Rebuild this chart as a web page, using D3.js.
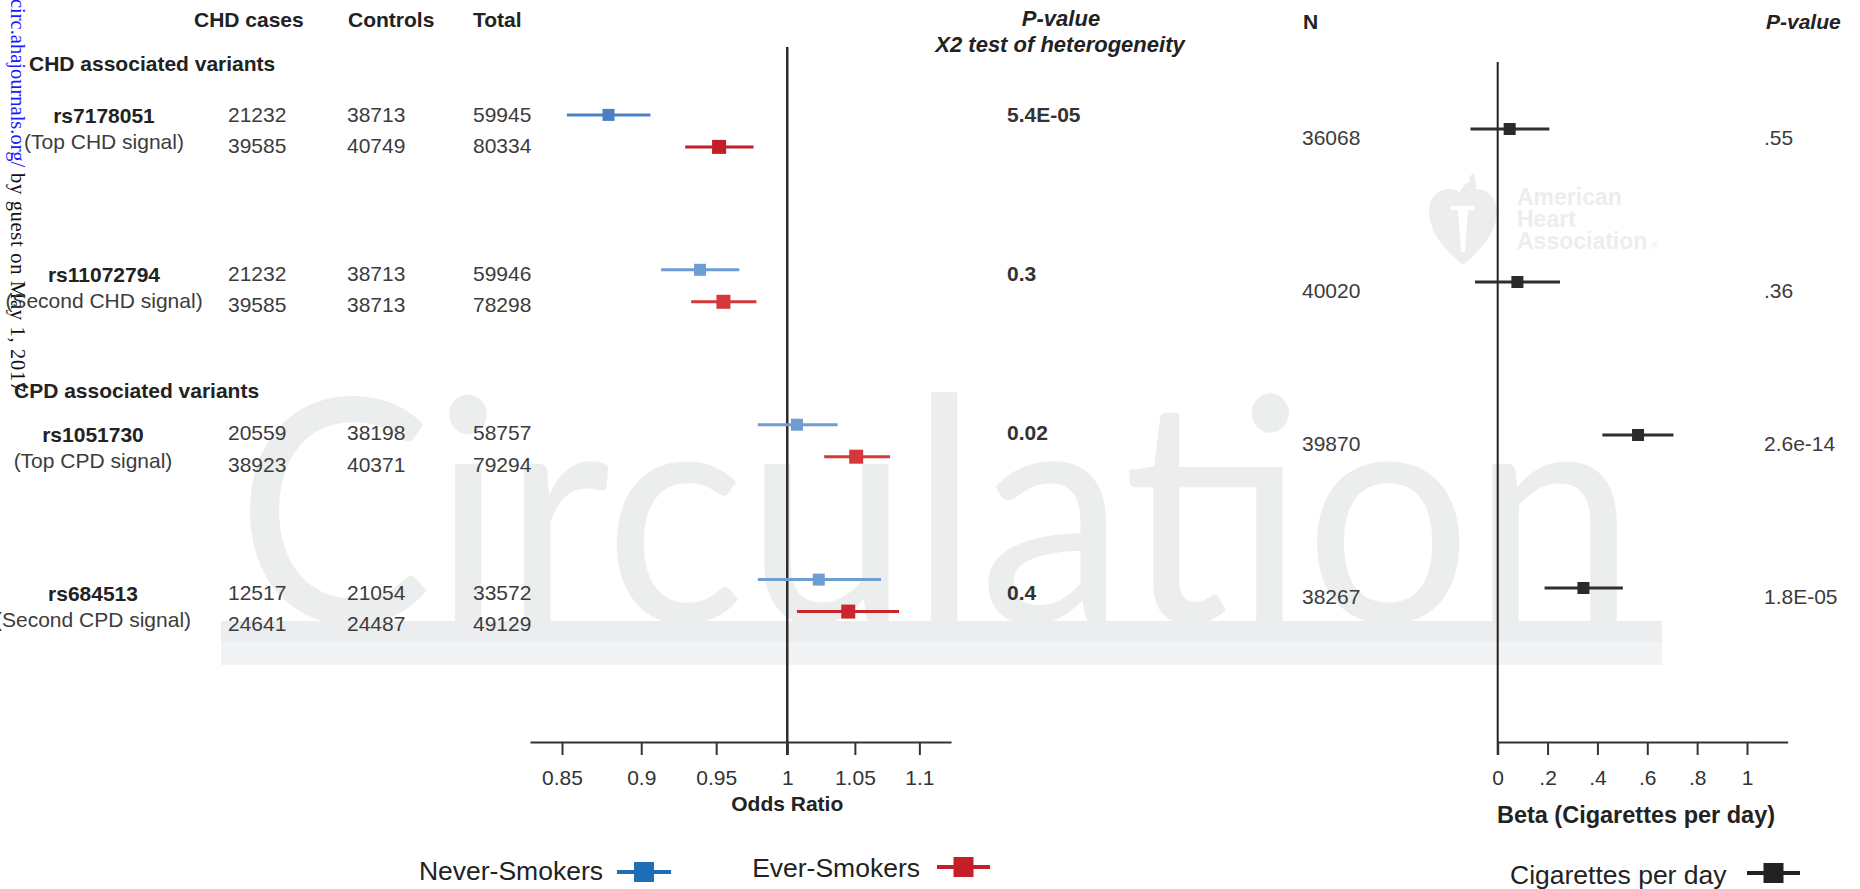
<!DOCTYPE html>
<html>
<head>
<meta charset="utf-8">
<script src="https://cdn.jsdelivr.net/npm/d3@7"></script>
<style>
  html, body { margin: 0; padding: 0; background: #fff; overflow: hidden; }
  svg { display: block; font-family: "Liberation Sans", Arial, Helvetica, sans-serif; }
</style>
</head>
<body>
<svg id="chart" width="1860" height="889"></svg>
<script>
// ---------------- data ----------------
const snps = ["rs7178051", "rs11072794", "rs1051730", "rs684513"];
const snpNotes = ["(Top CHD signal)", "(Second CHD signal)", "(Top CPD signal)", "(Second CPD signal)"];
const sectionTitles = ["CHD associated variants", "CPD associated variants"];
const tableHeaders = ["CHD cases", "Controls", "Total"];

// never-smokers (first line) and ever-smokers (second line) counts
const casesNever    = [21232, 21232, 20559, 12517];
const controlsNever = [38713, 38713, 38198, 21054];
const totalNever    = [59945, 59946, 58757, 33572];
const casesEver     = [39585, 39585, 38923, 24641];
const controlsEver  = [40749, 38713, 40371, 24487];
const totalEver     = [80334, 78298, 79294, 49129];

// odds ratios for CHD with 95% CI
const orNever   = [0.879, 0.939, 1.007, 1.023];
const orNeverLo = [0.853, 0.913, 0.979, 0.979];
const orNeverHi = [0.906, 0.966, 1.037, 1.070];
const orEver    = [0.952, 0.955, 1.051, 1.045];
const orEverLo  = [0.929, 0.933, 1.027, 1.007];
const orEverHi  = [0.976, 0.978, 1.077, 1.084];
const pHeterogeneity = ["5.4E-05", "0.3", "0.02", "0.4"];
const orTicks = [0.85, 0.9, 0.95, 1, 1.05, 1.1];

// association with cigarettes per day
const cpdN    = [36068, 40020, 39870, 38267];
const cpdBeta = [0.048, 0.079, 0.563, 0.344];
const cpdLo   = [-0.109, -0.091, 0.420, 0.188];
const cpdHi   = [0.207, 0.250, 0.705, 0.502];
const cpdP    = [".55", ".36", "2.6e-14", "1.8E-05"];
const betaTicks = [0, 0.2, 0.4, 0.6, 0.8, 1];
const betaTickLabels = ["0", ".2", ".4", ".6", ".8", "1"];

const seriesNames = ["Never-Smokers", "Ever-Smokers"];
const cpdLegend = "Cigarettes per day";

// ---------------- drawing ----------------
const svg = d3.select("#chart");
const INK = "#2a2a2a", NUM = "#3c3c3c";

function label(g, x, y, s, o = {}) {
  return g.append("text")
    .attr("x", x).attr("y", y)
    .attr("font-size", o.size || 21)
    .attr("font-weight", o.bold ? "bold" : "normal")
    .attr("font-style", o.italic ? "italic" : "normal")
    .attr("text-anchor", o.anchor || "start")
    .attr("fill", o.fill || INK)
    .text(s);
}

// --- background watermark ---
const wm = svg.append("g");
wm.append("text")
  .attr("x", 236).attr("y", 622)
  .attr("font-family", "Lato, 'Open Sans', 'Liberation Sans', sans-serif")
  .attr("font-weight", 400)
  .attr("font-size", 312)
  .attr("textLength", 1400).attr("lengthAdjust", "spacingAndGlyphs")
  .attr("fill", "#eceded")
  .text("Circulation");
wm.append("rect").attr("x", 221).attr("y", 642).attr("width", 1441).attr("height", 23).attr("fill", "#f2f3f4");
wm.append("rect").attr("x", 221).attr("y", 621).attr("width", 1441).attr("height", 21).attr("fill", "#ecedee");

// heart-and-torch emblem with society name
const logo = svg.append("g").attr("fill", "#ededed");
logo.append("path").attr("d",
  "M1463 265 C1440 246 1429 229 1429 211 C1429 197 1439 189 1450 189 C1457 189 1461 193 1463 197 " +
  "C1465 193 1469 189 1476 189 C1487 189 1497 197 1497 211 C1497 229 1486 246 1463 265 Z");
logo.append("path").attr("fill", "#fff").attr("d",
  "M1451 206 L1475 206 L1475 210 L1468 210 L1465 252 L1461 252 L1458 210 L1451 210 Z");
logo.append("path").attr("d",
  "M1460 203 C1456 194 1462 186 1470 181 C1468 176 1472 174 1475 173 C1473 180 1480 186 1474 194 C1471 199 1467 201 1466 203 Z");
[["American", 205], ["Heart", 227], ["Association", 249]].forEach(([t, y]) =>
  label(logo, 1517, y, t, { size: 23, bold: true, fill: "#ededed" }));
label(logo, 1651, 249, "®", { size: 9, fill: "#ededed" });

// --- margin stamp ---
const stamp = svg.append("text")
  .attr("transform", "translate(11,-1) rotate(90)")
  .attr("font-family", "'Liberation Serif', 'Times New Roman', serif")
  .attr("font-size", 20.5);
stamp.append("tspan").attr("fill", "#1a1aff").text("circ.ahajournals.org/");
stamp.append("tspan").attr("fill", "#111").attr("letter-spacing", 0.7).text(" by guest on May 1, 2017");

// --- table (left) ---
const tableY = d3.scalePoint().domain(snps).range([114, 592]);
const colX = d3.scaleOrdinal().domain(tableHeaders).range([228, 347, 473]);
const headX = d3.scaleOrdinal().domain(tableHeaders).range([194, 348, 473]);
const tbl = svg.append("g");
tableHeaders.forEach(h => label(tbl, headX(h), 26.5, h, { bold: true, fill: "#222" }));
label(tbl, 29, 70.5, sectionTitles[0], { bold: true, fill: "#222" });
label(tbl, 14, 397.5, sectionTitles[1], { bold: true, fill: "#222" });

const neverCols = [casesNever, controlsNever, totalNever];
const everCols = [casesEver, controlsEver, totalEver];
snps.forEach((s, i) => {
  const y = tableY(s);
  const cx = i < 2 ? 104 : 93;
  label(tbl, cx, y + 9, s, { bold: true, anchor: "middle", fill: "#222" });
  label(tbl, cx, y + 35, snpNotes[i], { anchor: "middle", fill: NUM });
  tableHeaders.forEach((h, k) => {
    label(tbl, colX(h), y + 7.5, neverCols[k][i], { fill: NUM });
    label(tbl, colX(h), y + 39, everCols[k][i], { fill: NUM });
  });
});

// --- odds-ratio forest plot ---
const xOR = d3.scaleLog().domain([0.8306, 1.1254]).range([530, 951]);
const forestY = d3.scalePoint().domain(snps).range([114.9, 579.6]);
const pairY = d3.scalePoint().domain(seriesNames).range([0, 32]);
const AXIS_Y = 742;

const fp = svg.append("g");
fp.append("line")
  .attr("x1", xOR(1)).attr("x2", xOR(1)).attr("y1", 47).attr("y2", AXIS_Y + 13)
  .attr("stroke", "#2d2d2d").attr("stroke-width", 2.5);

const orAxis = d3.axisBottom(xOR).tickValues(orTicks).tickFormat(d => String(d))
  .tickSizeInner(13).tickSizeOuter(0).tickPadding(15);
const gx = fp.append("g").attr("transform", `translate(0,${AXIS_Y})`).call(orAxis);
gx.select(".domain").attr("stroke", "#333").attr("stroke-width", 2);
gx.selectAll(".tick line").attr("stroke", "#333").attr("stroke-width", 2);
gx.selectAll(".tick text").attr("font-size", 21).attr("fill", "#333")
  .attr("font-family", "'Liberation Sans', Arial, sans-serif");
label(fp, xOR(1), 810.5, "Odds Ratio", { bold: true, anchor: "middle", fill: "#222" });

const orRows = [];
snps.forEach((s, i) => {
  orRows.push({ snp: s, i, series: seriesNames[0], est: orNever[i], lo: orNeverLo[i], hi: orNeverHi[i] });
  orRows.push({ snp: s, i, series: seriesNames[1], est: orEver[i], lo: orEverLo[i], hi: orEverHi[i] });
});
const shade = {
  "Never-Smokers": ["#4a80c2", "#6d9dd3", "#6d9dd3", "#6d9dd3"],
  "Ever-Smokers":  ["#c21e27", "#d5383b", "#d5383b", "#c9272d"]
};
const boxSize = { "Never-Smokers": 12, "Ever-Smokers": 14 };

const rowG = fp.selectAll("g.row").data(orRows).join("g").attr("class", "row")
  .attr("transform", d => `translate(0,${forestY(d.snp) + pairY(d.series)})`);
rowG.append("line")
  .attr("x1", d => xOR(d.lo)).attr("x2", d => xOR(d.hi))
  .attr("stroke", d => shade[d.series][d.i]).attr("stroke-width", 3);
rowG.append("rect")
  .attr("x", d => xOR(d.est) - boxSize[d.series] / 2)
  .attr("y", d => -boxSize[d.series] / 2)
  .attr("width", d => boxSize[d.series]).attr("height", d => boxSize[d.series])
  .attr("fill", d => shade[d.series][d.i]);

// --- heterogeneity p-values ---
const ph = svg.append("g");
label(ph, 1061, 26, "P-value", { bold: true, italic: true, anchor: "middle", size: 22, fill: "#222" });
label(ph, 1060, 51.5, "X2 test of heterogeneity", { bold: true, italic: true, anchor: "middle", size: 22, fill: "#222" });
snps.forEach((s, i) => label(ph, 1007, tableY(s) + 7.5, pHeterogeneity[i], { bold: true, fill: "#333" }));

// --- cigarettes-per-day panel ---
const xB = d3.scaleLinear().domain([0, 1.1633]).range([1497.7, 1787.7]);
const cpdY = d3.scalePoint().domain(snps).range([129, 588]);
const cp = svg.append("g");
cp.append("line")
  .attr("x1", xB(0)).attr("x2", xB(0)).attr("y1", 62).attr("y2", AXIS_Y + 13)
  .attr("stroke", "#222").attr("stroke-width", 2);
const bAxis = d3.axisBottom(xB).tickValues(betaTicks)
  .tickFormat((d, k) => betaTickLabels[k])
  .tickSizeInner(13).tickSizeOuter(0).tickPadding(15);
const gb = cp.append("g").attr("transform", `translate(0,${AXIS_Y})`).call(bAxis);
gb.select(".domain").attr("stroke", "#333").attr("stroke-width", 2);
gb.selectAll(".tick line").attr("stroke", "#333").attr("stroke-width", 2);
gb.selectAll(".tick text").attr("font-size", 21).attr("fill", "#333")
  .attr("font-family", "'Liberation Sans', Arial, sans-serif");
label(cp, 1636, 823, "Beta (Cigarettes per day)", { bold: true, anchor: "middle", size: 23.5, fill: "#222" });

label(cp, 1303, 29, "N", { bold: true, fill: "#222" });
label(cp, 1766, 29, "P-value", { bold: true, italic: true, fill: "#222" });

const cpdRows = snps.map((s, i) => ({ snp: s, n: cpdN[i], est: cpdBeta[i], lo: cpdLo[i], hi: cpdHi[i], p: cpdP[i] }));
const cg = cp.selectAll("g.cpd").data(cpdRows).join("g").attr("class", "cpd")
  .attr("transform", d => `translate(0,${cpdY(d.snp)})`);
cg.append("line")
  .attr("x1", d => xB(d.lo)).attr("x2", d => xB(d.hi))
  .attr("stroke", "#2e2e2e").attr("stroke-width", 3);
cg.append("rect")
  .attr("x", d => xB(d.est) - 6).attr("y", -6).attr("width", 12).attr("height", 12)
  .attr("fill", "#2a2a2a");
cg.each(function (d) {
  const g = d3.select(this);
  label(g, 1302, 15.5, d.n, { fill: NUM });
  label(g, 1764, 15.5, d.p, { fill: NUM });
});

// --- legends ---
const lg = svg.append("g");
function legendKey(x1, x2, y, size, color) {
  lg.append("line").attr("x1", x1).attr("x2", x2).attr("y1", y).attr("y2", y)
    .attr("stroke", color).attr("stroke-width", 4);
  lg.append("rect").attr("x", (x1 + x2) / 2 - size / 2).attr("y", y - size / 2)
    .attr("width", size).attr("height", size).attr("fill", color);
}
label(lg, 603, 880, seriesNames[0], { size: 26.5, anchor: "end", fill: "#222" });
legendKey(617, 671, 872, 20, "#1d6fb8");
label(lg, 920, 877, seriesNames[1], { size: 26.5, anchor: "end", fill: "#222" });
legendKey(937, 990, 867, 20, "#c41f28");
label(lg, 1510, 884, cpdLegend, { size: 26.5, fill: "#222" });
legendKey(1747, 1800, 873, 20, "#222");
</script>
</body>
</html>
